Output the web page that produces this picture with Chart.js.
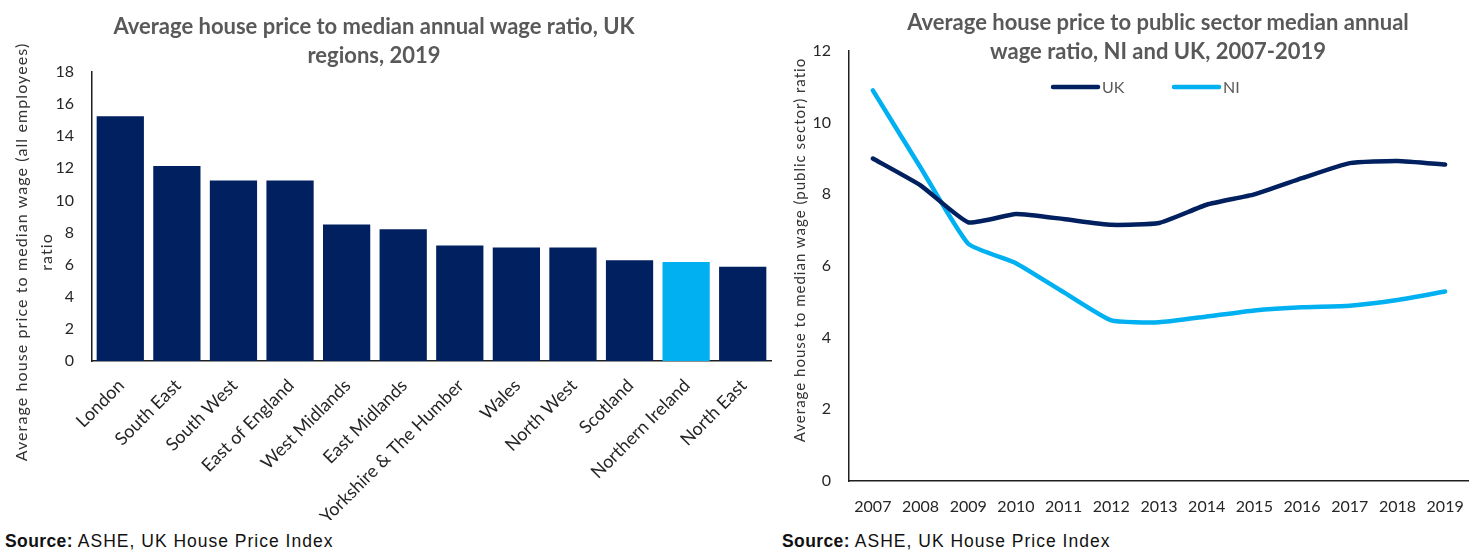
<!DOCTYPE html>
<html>
<head>
<meta charset="utf-8">
<script src="https://cdn.jsdelivr.net/npm/chart.js@4.4.1/dist/chart.umd.min.js"></script>
<style>
  html, body { margin: 0; padding: 0; background: #fff; }
  body { width: 1469px; height: 551px; overflow: hidden; position: relative; font-family: Lato, "Open Sans", sans-serif; }
  canvas { position: absolute; top: 0; }
  #barCanvas { left: 0; }
  #lineCanvas { left: 740px; }
  .title { position: absolute; width: 700px; text-align: center; font: bold 22px Lato, sans-serif; color: #595959; line-height: 29px; }
  .ytitle { position: absolute; text-align: center; font: 16px Lato, sans-serif; color: #333; transform: rotate(-90deg); white-space: nowrap; }
  .source { position: absolute; top: 531px; font: 17.5px "Liberation Sans", Arial, sans-serif; color: #111; letter-spacing: 1px; white-space: nowrap; }
  .source b { font-weight: bold; letter-spacing: 0.4px; }
</style>
</head>
<body>
<canvas id="barCanvas" width="780" height="520"></canvas>
<canvas id="lineCanvas" width="740" height="520"></canvas>

<div class="title" style="left:24px; top:11px;">Average house price to median annual wage ratio, UK<br>regions, 2019</div>
<div class="title" style="left:808px; top:7px;">Average house price to public sector median annual<br>wage ratio, NI and UK, 2007-2019</div>

<div class="ytitle" style="left:-212px; top:227px; width:490px; height:50px; line-height:25px; letter-spacing:1.1px;">Average house price to median wage (all employees)<br>ratio</div>
<div class="ytitle" style="left:584px; top:240px; width:430px; height:20px; line-height:20px; font-size:15px; letter-spacing:1px;">Average house to median wage (public sector) ratio</div>

<div class="source" style="left:5px;"><b>Source:</b> ASHE, UK House Price Index</div>
<div class="source" style="left:782px;"><b>Source:</b> ASHE, UK House Price Index</div>

<script>
// Regional ratios, 2019
const regions = ['London', 'South East', 'South West', 'East of England', 'West Midlands', 'East Midlands',
  'Yorkshire & The Humber', 'Wales', 'North West', 'Scotland', 'Northern Ireland', 'North East'];
const ratio2019 = [15.25, 12.15, 11.24, 11.24, 8.5, 8.2, 7.2, 7.07, 7.07, 6.27, 6.16, 5.87];
const highlightRegion = 'Northern Ireland';

// Public sector ratios, 2007-2019
const years = ['2007', '2008', '2009', '2010', '2011', '2012', '2013', '2014', '2015', '2016', '2017', '2018', '2019'];
const ukRatio = [9.0, 8.25, 7.22, 7.45, 7.31, 7.15, 7.2, 7.71, 8.0, 8.45, 8.87, 8.93, 8.83];
const niRatio = [10.9, 8.75, 6.62, 6.08, 5.27, 4.48, 4.43, 4.59, 4.76, 4.85, 4.89, 5.05, 5.29];

// Axis tick settings
const barTicks = { min: 0, max: 18, step: 2 };
const lineTicks = { min: 0, max: 12, step: 2 };

const NAVY = '#002060';
const LIGHT = '#00B0F0';
const AXIS = '#1f1f1f';
const TICK = '#262626';

Chart.defaults.font.family = 'Lato, "Open Sans", sans-serif';

new Chart(document.getElementById('barCanvas'), {
  type: 'bar',
  data: {
    labels: regions,
    datasets: [{
      data: ratio2019,
      backgroundColor: regions.map(r => r === highlightRegion ? LIGHT : NAVY),
      barPercentage: 0.835,
      categoryPercentage: 1
    }]
  },
  options: {
    responsive: false,
    animation: false,
    devicePixelRatio: 1,
    layout: { padding: { top: 72, right: 9, bottom: 0, left: 0 } },
    plugins: { legend: { display: false }, title: { display: false }, tooltip: { enabled: false } },
    scales: {
      x: {
        grid: { display: false, drawTicks: false },
        border: { color: AXIS, width: 1.5 },
        ticks: { minRotation: 45, maxRotation: 45, autoSkip: false, padding: 14, labelOffset: 1,
                 color: TICK, font: { size: 18 } },
        afterFit: s => { s.height = 159; }
      },
      y: {
        min: barTicks.min, max: barTicks.max,
        grid: { display: false, drawTicks: false },
        border: { color: AXIS, width: 1.5 },
        ticks: { stepSize: barTicks.step, padding: 18, color: TICK, font: { size: 16 } },
        afterFit: s => { s.width = 92; }
      }
    }
  }
});

// Legend drawn as a short thick line followed by the series name
const lineLegend = {
  id: 'lineLegend',
  afterDraw(chart) {
    const ctx = chart.ctx;
    const starts = [313, 434];
    const y = 87;
    ctx.save();
    chart.data.datasets.forEach((ds, i) => {
      const x = starts[i];
      ctx.beginPath();
      ctx.lineWidth = 4.5;
      ctx.lineCap = 'round';
      ctx.strokeStyle = ds.borderColor;
      ctx.moveTo(x, y);
      ctx.lineTo(x + 45, y);
      ctx.stroke();
      ctx.fillStyle = '#595959';
      ctx.font = '16px Lato, sans-serif';
      ctx.textBaseline = 'middle';
      ctx.textAlign = 'left';
      ctx.fillText(ds.label, x + 49, y + 1);
    });
    ctx.restore();
  }
};

new Chart(document.getElementById('lineCanvas'), {
  type: 'line',
  data: {
    labels: years,
    datasets: [
      { label: 'UK', data: ukRatio, borderColor: NAVY, backgroundColor: NAVY },
      { label: 'NI', data: niRatio, borderColor: LIGHT, backgroundColor: LIGHT }
    ]
  },
  options: {
    responsive: false,
    animation: false,
    devicePixelRatio: 1,
    layout: { padding: { top: 51, right: 8, bottom: 0, left: 0 } },
    elements: {
      line: { borderWidth: 4.5, tension: 0.15, borderCapStyle: 'round', borderJoinStyle: 'round', fill: false },
      point: { radius: 0, hoverRadius: 0 }
    },
    plugins: { legend: { display: false }, title: { display: false }, tooltip: { enabled: false } },
    scales: {
      x: {
        offset: true,
        grid: { display: false, drawTicks: false },
        border: { color: AXIS, width: 1.5 },
        ticks: { padding: 16, maxRotation: 0, autoSkip: false, color: TICK, font: { size: 16 } },
        afterFit: s => { s.height = 39; }
      },
      y: {
        min: lineTicks.min, max: lineTicks.max,
        grid: { display: false, drawTicks: false },
        border: { color: AXIS, width: 1.5 },
        ticks: { stepSize: lineTicks.step, padding: 18, color: TICK, font: { size: 16 } },
        afterFit: s => { s.width = 109; }
      }
    }
  },
  plugins: [lineLegend]
});
</script>
</body>
</html>
